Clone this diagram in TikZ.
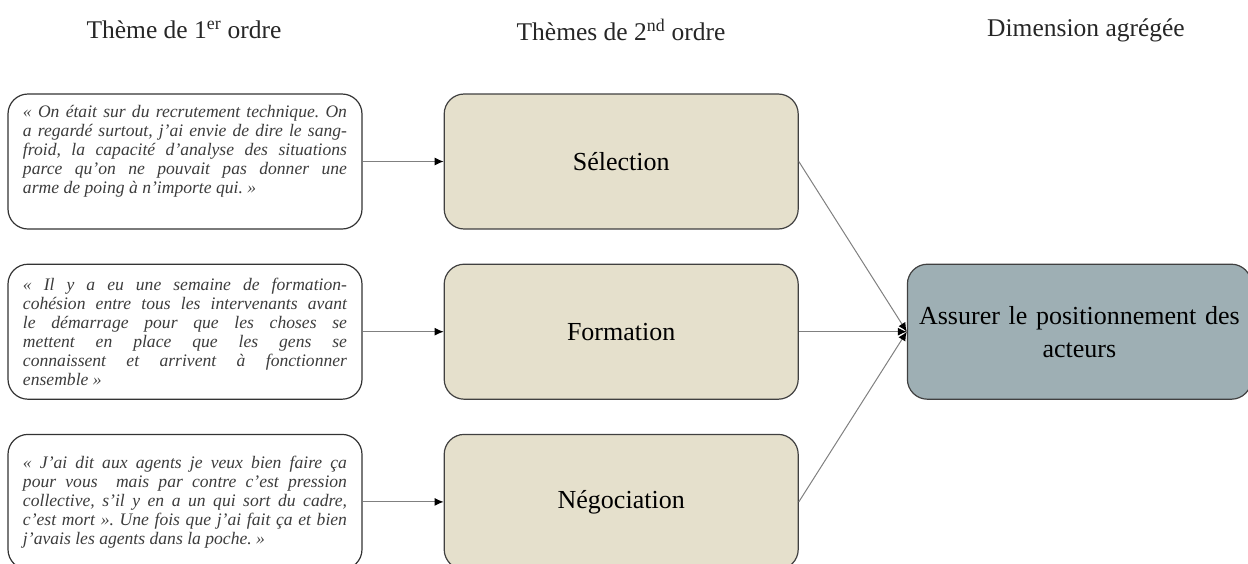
\documentclass[tikz,border=0pt]{standalone}
\usepackage{fontspec}
\setmainfont{Liberation Serif}
\usetikzlibrary{positioning,arrows.meta}
\definecolor{beige}{RGB}{229,224,204}
\definecolor{slate}{RGB}{158,175,180}
\definecolor{ink}{RGB}{60,60,60}
\frenchspacing

\begin{document}
\begin{tikzpicture}[x=1pt, y=1pt, node distance={34pt},
  quote/.style = {draw=black!80, line width=1.2pt, rounded corners=20pt, minimum width=354pt, minimum height=135pt, inner sep=0pt, text width=324pt, align=justify, text=ink, font=\fontsize{17.6}{19}\selectfont\itshape},
  theme/.style = {draw=black!75, line width=1.2pt, fill=beige, rounded corners=20pt, minimum width=354pt, minimum height=135pt, font=\fontsize{26}{30}\selectfont},
  dim/.style = {draw=black!75, line width=1.2pt, fill=slate, rounded corners=20pt, minimum width=344pt, minimum height=135pt, inner sep=0pt, text width=330pt, align=center, font=\fontsize{26}{33}\selectfont},
  head/.style = {text=black!85, font=\fontsize{25.5}{28}\selectfont},
  link/.style = {draw=black!50, line width=1pt, -{Latex[color=black, length=9pt, width=8pt]}}]
\useasboundingbox (0,0) rectangle (1248,-563);

\node[head] (h1) at (184,-30) {Thème de 1\textsuperscript{er} ordre};
\node[head] (h2) at (621,-30) {Thèmes de 2\textsuperscript{nd} ordre};
\node[head] (h3) at (1086,-30) {Dimension agrégée};

\node[quote] (q1) at (185,-161.5) {« On était sur du recrutement technique. On\linebreak a regardé surtout, j'ai envie de dire le sang-\linebreak froid, la capacité d'analyse des situations\linebreak parce qu’on ne pouvait pas donner une\linebreak arme de poing à n'importe qui.~»\\[6pt]};
\node[quote] (q2) [below=of q1] {« Il y a eu une semaine de formation-\linebreak cohésion entre tous les intervenants avant\linebreak le démarrage pour que les choses se\linebreak mettent en place que les gens se\linebreak connaissent et arrivent à fonctionner\linebreak ensemble~»};
\node[quote] (q3) [below=of q2] {« J’ai dit aux agents je veux bien faire ça\linebreak pour vous~ mais par contre c’est pression\linebreak collective, s’il y en a un qui sort du cadre,\linebreak c’est mort~». Une fois que j’ai fait ça et bien\linebreak j’avais les agents dans la poche.~»};

\node[theme] (s1) [right=81pt of q1] {Sélection};
\node[theme] (s2) [right=81pt of q2] {Formation};
\node[theme] (s3) [right=81pt of q3] {Négociation};

\node[dim] (agg) [right=108pt of s2] {Assurer le positionnement des\\acteurs};

\draw[link] (q1) -- (s1);
\draw[link] (q2) -- (s2);
\draw[link] (q3) -- (s3);
\draw[link] (s1.east) -- (agg.west);
\draw[link] (s2.east) -- (agg.west);
\draw[link] (s3.east) -- (agg.west);
\end{tikzpicture}
\end{document}
